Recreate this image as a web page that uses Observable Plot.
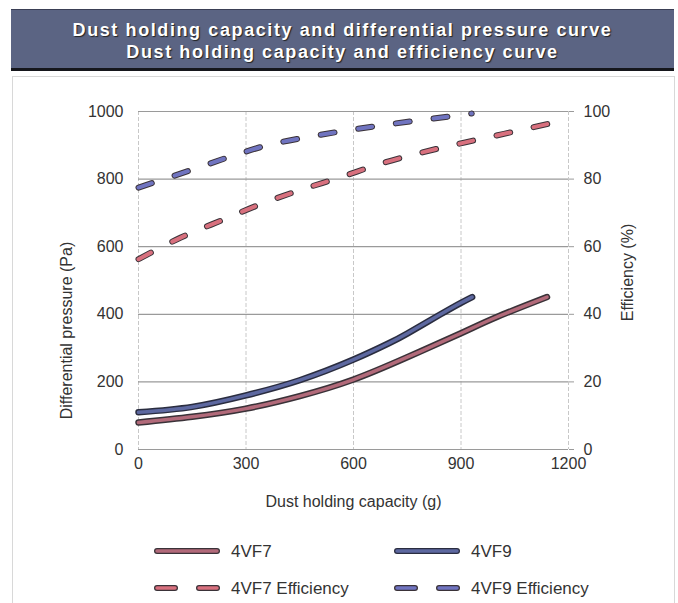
<!DOCTYPE html>
<html>
<head>
<meta charset="utf-8">
<script src="https://cdn.jsdelivr.net/npm/d3@7"></script>
<script src="https://cdn.jsdelivr.net/npm/@observablehq/plot@0.6"></script>
<style>
  html, body { margin: 0; padding: 0; background: #fff; }
  body { width: 678px; height: 603px; position: relative; overflow: hidden; font-family: "Liberation Sans", Arial, sans-serif; }
  #banner { position: absolute; left: 11px; top: 9px; width: 663px; height: 62px; background: #5b6483;
    border-top: 1px solid #3a3f55; border-bottom: 3px solid #15161c; box-sizing: border-box;
    color: #fff; font-weight: bold; font-size: 18px; text-align: center; line-height: 22px; padding-top: 9px;
    text-shadow: 1px 1px 1px #222; letter-spacing: 1.6px; }
  #frame { position: absolute; left: 12px; top: 76px; width: 663px; height: 530px; border: 1px solid #d8d8d8; border-bottom: none; box-sizing: border-box; }
  #chart { position: absolute; left: 0; top: 80px; }
  #legend { position: absolute; left: 0; top: 0; width: 678px; height: 603px; pointer-events: none; }
</style>
</head>
<body>
<div id="banner">Dust holding capacity and differential pressure curve<br>Dust holding capacity and efficiency curve</div>
<div id="frame"></div>
<div id="chart"></div>
<svg id="legend" width="678" height="603"></svg>
<script>
// ---- data ----
const capF7 = [0, 150, 300, 450, 600, 750, 900, 1000, 1140];
const dpF7  = [80, 97, 121, 158, 207, 273, 344, 392, 451];
const capF9 = [0, 150, 300, 450, 600, 700, 750, 843, 900, 931];
const dpF9  = [110, 126, 160, 205, 266, 315, 343, 400, 434, 451];
const capEffF7 = [0, 118, 239, 341, 444, 565, 677, 788, 909, 1020, 1150];
const effF7    = [56.3, 62.7, 68.1, 72.6, 76.5, 80.6, 84.6, 87.8, 90.8, 93.4, 96.5];
const capEffF9 = [0, 145, 266, 359, 470, 600, 712, 823, 930];
const effF9    = [77.5, 82.6, 87.0, 90.0, 92.4, 94.7, 96.4, 97.9, 99.4];
const xTicks = [0, 300, 600, 900, 1200];
const yTicks = [0, 200, 400, 600, 800, 1000];
const effTicks = [0, 20, 40, 60, 80, 100];
const seriesNames = ["4VF7", "4VF9", "4VF7 Efficiency", "4VF9 Efficiency"];

const zip = (xs, ys) => xs.map((x, i) => ({x, y: ys[i]}));
const f7 = zip(capF7, dpF7), f9 = zip(capF9, dpF9);
const e7 = zip(capEffF7, effF7), e9 = zip(capEffF9, effF9);
const effToY = d => d.y * 10; // right axis 0–100 % shares the 0–1000 Pa frame

const colF7 = "#b26a7a", colF9 = "#5d68a0", colE7 = "#d8707e", colE9 = "#7074c0";
const outline = "#3a3238", outline9 = "#2a2d40";
const dash = "14,24";
const font = "'Liberation Sans', Arial, sans-serif";

const plot = Plot.plot({
  width: 678,
  height: 439,
  marginLeft: 138,
  marginRight: 110,
  marginTop: 31,
  marginBottom: 70,
  style: {fontFamily: font, fontSize: "16px", color: "#333", background: "transparent"},
  x: {domain: [0, 1200]},
  y: {domain: [0, 1000]},
  marks: [
    Plot.ruleX(xTicks, {stroke: "#c8c8c8", strokeDasharray: "4,2", strokeWidth: 1}),
    Plot.ruleY(yTicks, {stroke: "#9a9a9a", strokeWidth: 1.2}),
    Plot.axisX(xTicks, {tickSize: 0, tickPadding: 8, label: null, fontSize: 16, tickFormat: d => String(d)}),
    Plot.axisY(yTicks, {anchor: "left", tickSize: 0, tickPadding: 15, label: null, fontSize: 16, tickFormat: d => String(d)}),
    Plot.axisY(yTicks, {anchor: "right", tickSize: 5, tickPadding: 10, stroke: "#9a9a9a", label: null, fontSize: 16,
      tickFormat: d => String(effTicks[yTicks.indexOf(d)])}),
    Plot.text(["Dust holding capacity (g)"], {frameAnchor: "bottom", dy: 57, fontSize: 16, fill: "#333"}),
    Plot.text(["Differential pressure (Pa)"], {frameAnchor: "left", textAnchor: "middle", dx: -72, dy: 50, rotate: -90, fontSize: 16, fill: "#333"}),
    Plot.text(["Efficiency (%)"], {frameAnchor: "right", textAnchor: "middle", dx: 59, dy: -8, rotate: -90, fontSize: 16, fill: "#333"}),
    // efficiency (dashed, outlined)
    Plot.line(e7, {x: "x", y: effToY, curve: "monotone-x", stroke: outline, strokeWidth: 6, strokeDasharray: dash, strokeLinecap: "round"}),
    Plot.line(e7, {x: "x", y: effToY, curve: "monotone-x", stroke: colE7, strokeWidth: 4, strokeDasharray: dash, strokeLinecap: "round"}),
    Plot.line(e9, {x: "x", y: effToY, curve: "monotone-x", stroke: outline, strokeWidth: 6, strokeDasharray: dash, strokeLinecap: "round"}),
    Plot.line(e9, {x: "x", y: effToY, curve: "monotone-x", stroke: colE9, strokeWidth: 4, strokeDasharray: dash, strokeLinecap: "round"}),
    // differential pressure (solid, outlined)
    Plot.line(f7, {x: "x", y: "y", curve: "natural", stroke: outline, strokeWidth: 6.5, strokeLinecap: "round"}),
    Plot.line(f7, {x: "x", y: "y", curve: "natural", stroke: colF7, strokeWidth: 3.5, strokeLinecap: "round"}),
    Plot.line(f9, {x: "x", y: "y", curve: "natural", stroke: outline9, strokeWidth: 6.5, strokeLinecap: "round"}),
    Plot.line(f9, {x: "x", y: "y", curve: "natural", stroke: colF9, strokeWidth: 3.5, strokeLinecap: "round"})
  ]
});
document.getElementById("chart").appendChild(plot);

// ---- legend ----
const lg = d3.select("#legend");
const items = [
  {name: seriesNames[0], col: colF7, out: outline, dashed: false, x: 155, y: 551},
  {name: seriesNames[1], col: colF9, out: outline9, dashed: false, x: 395, y: 551},
  {name: seriesNames[2], col: colE7, out: outline, dashed: true, x: 155, y: 588},
  {name: seriesNames[3], col: colE9, out: outline, dashed: true, x: 395, y: 588}
];
for (const it of items) {
  const segs = it.dashed ? [[it.x + 2, it.x + 20], [it.x + 44, it.x + 62]] : [[it.x + 2, it.x + 62]];
  for (const [a, b] of segs) {
    lg.append("line").attr("x1", a).attr("x2", b).attr("y1", it.y).attr("y2", it.y)
      .attr("stroke", it.out).attr("stroke-width", 6).attr("stroke-linecap", "round");
    lg.append("line").attr("x1", a).attr("x2", b).attr("y1", it.y).attr("y2", it.y)
      .attr("stroke", it.col).attr("stroke-width", 3.5).attr("stroke-linecap", "round");
  }
  lg.append("text").attr("x", it.x + 76).attr("y", it.y).attr("dy", "0.35em")
    .attr("font-family", font).attr("font-size", 17).attr("fill", "#333")
    .text(it.name);
}
</script>
</body>
</html>
